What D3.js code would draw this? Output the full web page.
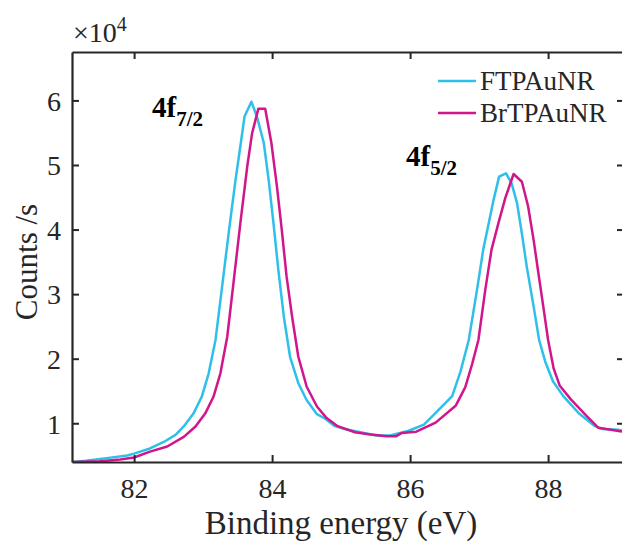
<!DOCTYPE html>
<html>
<head>
<meta charset="utf-8">
<script src="https://cdn.jsdelivr.net/npm/d3@7"></script>
<style>
  body { margin: 0; background: #fff; }
  svg, svg text { font-family: "Liberation Serif", "Times New Roman", serif; }
</style>
</head>
<body>
<div id="chart"></div>
<script>
// binding energy (eV) and counts/s for each sample
const energyF = [81.10, 81.30, 81.60, 81.90, 82.00, 82.23, 82.43, 82.60, 82.72, 82.86, 82.98, 83.08, 83.18, 83.27, 83.37, 83.47, 83.54, 83.60, 83.70, 83.78, 83.88, 83.95, 84.02, 84.09, 84.17, 84.26, 84.38, 84.50, 84.65, 84.77, 84.90, 85.05, 85.28, 85.51, 85.71, 85.97, 86.20, 86.37, 86.61, 86.73, 86.85, 86.97, 87.06, 87.14, 87.21, 87.29, 87.39, 87.47, 87.55, 87.62, 87.69, 87.79, 87.87, 87.96, 88.07, 88.22, 88.44, 88.67, 88.79, 89.02, 89.10];
const countsF = [4000, 4200, 4600, 5000, 5300, 6100, 7100, 8200, 9500, 11500, 14100, 17700, 22900, 30700, 39400, 47700, 52900, 57500, 59800, 57500, 53400, 47700, 41000, 33800, 26500, 20300, 16200, 13600, 11400, 10700, 9600, 9100, 8600, 8100, 8100, 8800, 9800, 11600, 14200, 18000, 22900, 30700, 36900, 41000, 44600, 48200, 48700, 47200, 44100, 39400, 34300, 28100, 22900, 19500, 16500, 14200, 11600, 9600, 9100, 9000, 8800];

const energyB = [81.10, 81.50, 81.80, 82.00, 82.23, 82.48, 82.72, 82.89, 83.03, 83.15, 83.25, 83.35, 83.44, 83.54, 83.64, 83.71, 83.80, 83.90, 83.99, 84.07, 84.14, 84.21, 84.29, 84.38, 84.50, 84.65, 84.79, 84.94, 85.20, 85.40, 85.66, 85.80, 85.88, 86.09, 86.37, 86.66, 86.80, 86.90, 86.99, 87.09, 87.18, 87.28, 87.38, 87.50, 87.62, 87.71, 87.79, 87.86, 87.93, 88.00, 88.08, 88.17, 88.33, 88.56, 88.73, 89.02, 89.10];
const countsB = [4000, 4100, 4400, 4700, 5600, 6400, 7900, 9500, 11500, 14100, 17700, 23400, 31700, 41000, 49800, 54900, 58700, 58700, 53400, 46700, 40000, 32700, 26500, 20300, 15700, 12600, 10800, 9600, 8600, 8300, 8000, 8000, 8500, 8700, 10100, 12700, 15600, 19200, 22900, 30700, 36900, 41000, 44900, 48600, 47400, 43600, 38400, 33200, 28100, 22900, 18500, 15800, 13700, 11100, 9300, 8800, 8700];

const seriesNames = ["FTPAuNR", "BrTPAuNR"];
const seriesColors = ["#2ebfea", "#d1168c"];
const xTicks = [82, 84, 86, 88];
const yTicks = [10000, 20000, 30000, 40000, 50000, 60000];

const width = 622;
const height = 544;
const margin = { top: 52, right: -2, bottom: 82, left: 72 };
const ink = "#262626";
const serif = "'Liberation Serif', 'Times New Roman', serif";

const svg = d3.select("#chart")
	.append("svg")
	.attr("width", width)
	.attr("height", height);

const x = d3.scaleLinear()
	.domain([81.1, 89.1])
	.range([margin.left, width - margin.right]);
const y = d3.scaleLinear()
	.domain([4000, 67500])
	.range([height - margin.bottom, margin.top]);

svg.append("clipPath")
	.attr("id", "plot-clip")
	.append("rect")
	.attr("x", margin.left)
	.attr("y", margin.top)
	.attr("width", width - margin.right - margin.left)
	.attr("height", height - margin.bottom - margin.top);

const line = d3.line()
	.x(d => x(d[0]))
	.y(d => y(d[1]));

const series = [
	d3.zip(energyF, countsF),
	d3.zip(energyB, countsB)
];

svg.append("g")
	.attr("clip-path", "url(#plot-clip)")
	.selectAll("path")
	.data(series)
	.join("path")
	.attr("d", line)
	.attr("fill", "none")
	.attr("stroke", (d, i) => seriesColors[i])
	.attr("stroke-width", 2.5)
	.attr("stroke-linejoin", "round");

// axes: ticks point inward, box on all four sides
const tickLen = 7;
const styleAxis = g => {
	g.attr("font-family", serif);
	g.select(".domain").attr("stroke", ink).attr("stroke-width", 2.2);
	g.selectAll(".tick line").attr("stroke", ink).attr("stroke-width", 2);
	g.selectAll(".tick text")
		.attr("fill", ink)
		.style("font-size", "28px");
};

svg.append("g")
	.attr("transform", `translate(0,${height - margin.bottom})`)
	.call(d3.axisBottom(x).tickValues(xTicks).tickSize(-tickLen).tickSizeOuter(0).tickPadding(0))
	.call(styleAxis)
	.call(g => g.selectAll(".tick text").attr("y", 36).attr("dy", null));

svg.append("g")
	.attr("transform", `translate(0,${margin.top})`)
	.call(d3.axisTop(x).tickValues(xTicks).tickSize(-tickLen).tickSizeOuter(0).tickFormat(""))
	.call(styleAxis);

svg.append("g")
	.attr("transform", `translate(${margin.left},0)`)
	.call(d3.axisLeft(y).tickValues(yTicks).tickSize(-tickLen).tickSizeOuter(0)
		.tickFormat(d => d / 10000))
	.call(styleAxis)
	.call(g => g.selectAll(".tick text").attr("x", -11).attr("dy", "0.35em"));

svg.append("g")
	.attr("transform", `translate(${width - margin.right},0)`)
	.call(d3.axisRight(y).tickValues(yTicks).tickSize(-tickLen).tickSizeOuter(0).tickFormat(""))
	.call(styleAxis);

// exponent above the y axis
const expo = svg.append("text")
	.attr("x", 73)
	.attr("y", 42)
	.attr("fill", ink)
	.style("font-size", "28px");
expo.append("tspan").text("\u00d710");
expo.append("tspan").attr("dy", -11).style("font-size", "20px").text("4");

// axis titles
svg.append("text")
	.attr("x", 341)
	.attr("y", 534)
	.attr("text-anchor", "middle")
	.attr("fill", ink)
	.style("font-size", "33px")
	.text("Binding energy (eV)");

svg.append("text")
	.attr("transform", "translate(37,262) rotate(-90)")
	.attr("text-anchor", "middle")
	.attr("fill", ink)
	.style("font-size", "31px")
	.text("Counts /s");

// peak labels
const peakLabels = [
	{ main: "4f", sub: "7/2", x: 152, y: 117 },
	{ main: "4f", sub: "5/2", x: 406, y: 166 }
];
peakLabels.forEach(p => {
	const t = svg.append("text")
		.attr("x", p.x)
		.attr("y", p.y)
		.attr("fill", "#000")
		.style("font-weight", "bold")
		.style("font-size", "29px");
	t.append("tspan").text(p.main);
	t.append("tspan").attr("dy", 9).style("font-size", "21px").text(p.sub);
});

// legend
const legend = svg.append("g")
	.attr("transform", "translate(438,81)");
seriesNames.forEach((name, i) => {
	const row = legend.append("g").attr("transform", `translate(0,${i * 32})`);
	row.append("line")
		.attr("x1", 0)
		.attr("x2", 38)
		.attr("stroke", seriesColors[i])
		.attr("stroke-width", 2.5);
	row.append("text")
		.attr("x", 42)
		.attr("y", 9)
		.attr("fill", ink)
		.style("font-size", "27px")
		.text(name);
});
</script>
</body>
</html>
